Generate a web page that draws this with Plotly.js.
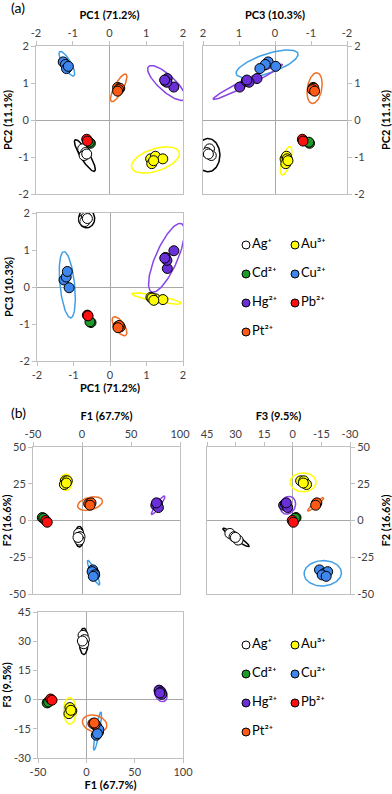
<!DOCTYPE html>
<html><head><meta charset="utf-8">
<script src="https://cdn.plot.ly/plotly-3.0.1.min.js"></script>
<style>html,body{margin:0;padding:0;background:#fff}#chart{width:392px;height:794px}</style>
</head><body><div id="chart"></div>
<script>
const W = 392, H = 794;
const FONT = 'Lato, "Liberation Sans", sans-serif';

const ions = ['Ag','Au','Cd','Cu','Hg','Pb','Pt'];
const ionLabels = ['Ag⁺','Au³⁺','Cd²⁺','Cu²⁺','Hg²⁺','Pb²⁺','Pt²⁺'];
const markerColors = ['#ffffff','#ffff00','#1f9a2a','#3d86ee','#6a2fd6','#ff1010','#ff5a14'];
const ellipseColors = ['#000000','#ffff00','#1f9a2a','#3fa0e8','#8a45e6','#ff1010','#f07028'];

// ---------- (a) PCA scores ----------
const Ag_PC1 = [-0.73,-0.65,-0.69,-0.62];
const Ag_PC2 = [-0.78,-0.88,-0.96,-0.92];
const Ag_PC3 = [1.82,1.89,1.77,1.85];
const Au_PC1 = [1.12,1.25,1.45,1.15,1.2];
const Au_PC2 = [-1.05,-0.98,-1.05,-1.18,-1.1];
const Au_PC3 = [-0.28,-0.32,-0.34,-0.3,-0.36];
const Cd_PC1 = [-0.52,-0.55];
const Cd_PC2 = [-0.63,-0.6];
const Cd_PC3 = [-0.96,-0.94];
const Cu_PC1 = [-1.26,-1.2,-1.17,-1.12];
const Cu_PC2 = [1.57,1.5,1.39,1.45];
const Cu_PC3 = [0.19,0.27,0.42,-0.02];
const Hg_PC1 = [1.75,1.57,1.52,1.56,1.5];
const Hg_PC2 = [0.89,1.12,1.05,1.02,1.08];
const Hg_PC3 = [0.98,0.5,0.8,0.72,0.78];
const Pb_PC1 = [-0.62,-0.6];
const Pb_PC2 = [-0.52,-0.57];
const Pb_PC3 = [-0.76,-0.78];
const Pt_PC1 = [0.22,0.28,0.25,0.22];
const Pt_PC2 = [0.88,0.86,0.82,0.78];
const Pt_PC3 = [-1.06,-1.08,-1.04,-1.1];

// ---------- (b) factor scores ----------
const Ag_F1 = [-3.4,-2,-2.7,-4.1];
const Ag_F2 = [-8.8,-11,-13.3,-11.5];
const Ag_F3 = [33,30.8,28.7,30.1];
const Au_F1 = [-17,-15,-18,-16];
const Au_F2 = [27,27,24.5,25.5];
const Au_F3 = [-4.1,-5.8,-7.2,-5.5];
const Cd_F1 = [-40.5,-39];
const Cd_F2 = [2,1.5];
const Cd_F3 = [-1.7,-1.2];
const Cu_F1 = [11,12.7,10.3,13,11.5];
const Cu_F2 = [-33.6,-35.9,-34.8,-37,-38];
const Cu_F3 = [-14,-16.6,-18.3,-15.4,-17.5];
const Hg_F1 = [75.3,77,78,76];
const Hg_F2 = [10.4,11.5,8.8,12];
const Hg_F3 = [4.8,3.9,2.7,3.4];
const Pb_F1 = [-37,-35.5];
const Pb_F2 = [0,-1.2];
const Pb_F3 = [0.3,-0.3];
const Pt_F1 = [6.8,9.2,8.2];
const Pt_F2 = [11.5,12,10.4];
const Pt_F3 = [-12.3,-12.6,-12];

// confidence ellipses: [ion, centre x, centre y, semi-axis a, semi-axis b, angle deg]
const ellPC1PC2 = [['Ag',-0.67,-0.96,0.5,0.12,-58],['Au',1.25,-1.08,0.68,0.3,18],['Cu',-1.16,1.52,0.38,0.11,-60],['Hg',1.55,1.0,0.66,0.22,-42],['Pt',0.25,0.87,0.42,0.12,62]];
const ellPC3PC2 = [['Ag',1.86,-0.95,0.45,0.33,90],['Au',-0.31,-1.1,0.4,0.12,106],['Cu',0.22,1.52,0.9,0.26,-18],['Hg',0.76,1.03,1.07,0.09,-26],['Pt',-1.1,0.86,0.42,0.2,100]];
const ellPC1PC3 = [['Ag',-0.64,1.85,0.25,0.22,90],['Au',1.27,-0.31,0.69,0.08,-11],['Cu',-1.17,0.06,0.9,0.2,96],['Hg',1.55,0.79,1.01,0.3,66],['Pt',0.26,-1.06,0.3,0.13,-55]];
const ellF1F2 = [['Ag',-2.7,-11,7,4.5,90],['Au',-16.4,26,6,5.6,0],['Cu',11.8,-35.5,10.2,2.2,-54],['Hg',77.7,10.4,9.2,1.8,42],['Pt',8.2,11.5,12.8,4.3,8]];
const ellF3F2 = [['Ag',29.8,-11.5,9.2,1.5,42],['Au',-5.4,26,6.8,6.4,0],['Cu',-15.7,-35.9,9.8,8.6,-8],['Hg',2.6,10.4,6.1,4,100],['Pt',-12,11,6.1,1.2,132]];
const ellF1F3 = [['Ag',-2.7,29.9,6.75,4.6,90],['Au',-17.1,-5.8,6.8,6.5,95],['Cu',11.6,-16.1,10.5,2,69],['Hg',77,3.1,6.8,3.9,-15],['Pt',8.6,-12.3,12.7,4.3,-5]];

// ticks
const pcTicks = [-2,-1,0,1,2];
const pcTickText = ['-2','-1','0','1','2'];
const f1Ticks = [-50,0,50,100];
const f1TickText = ['-50','0','50','100'];
const f2Ticks = [-50,-25,0,25,50];
const f2TickText = ['-50','-25','0','25','50'];
const f3xTicks = [45,30,15,0,-15,-30];
const f3xTickText = ['45','30','15','0','-15','-30'];
const f3yTicks = [-30,-15,0,15,30,45];
const f3yTickText = ['-30','-15','0','15','30','45'];

// ---------- build ----------
const PC1 = [Ag_PC1,Au_PC1,Cd_PC1,Cu_PC1,Hg_PC1,Pb_PC1,Pt_PC1];
const PC2 = [Ag_PC2,Au_PC2,Cd_PC2,Cu_PC2,Hg_PC2,Pb_PC2,Pt_PC2];
const PC3 = [Ag_PC3,Au_PC3,Cd_PC3,Cu_PC3,Hg_PC3,Pb_PC3,Pt_PC3];
const F1 = [Ag_F1,Au_F1,Cd_F1,Cu_F1,Hg_F1,Pb_F1,Pt_F1];
const F2 = [Ag_F2,Au_F2,Cd_F2,Cu_F2,Hg_F2,Pb_F2,Pt_F2];
const F3 = [Ag_F3,Au_F3,Cd_F3,Cu_F3,Hg_F3,Pb_F3,Pt_F3];

function ellipse(cx, cy, a, b, th){
  const r = th*Math.PI/180, xs=[], ys=[];
  for(let i=0;i<=96;i++){
    const t = i/96*2*Math.PI;
    xs.push(cx + a*Math.cos(t)*Math.cos(r) - b*Math.sin(t)*Math.sin(r));
    ys.push(cy + a*Math.cos(t)*Math.sin(r) + b*Math.sin(t)*Math.cos(r));
  }
  return [xs, ys];
}

const traces = [];
function addPanel(xa, ya, X, Y, ells){
  ells.forEach(e => {
    const k = ions.indexOf(e[0]);
    const [xs, ys] = ellipse(e[1],e[2],e[3],e[4],e[5]);
    traces.push({type:'scatter',mode:'lines',x:xs,y:ys,xaxis:xa,yaxis:ya,
      line:{color:ellipseColors[k],width:1.5},hoverinfo:'skip',showlegend:false});
  });
  ions.forEach((ion,k) => {
    traces.push({type:'scatter',mode:'markers',name:ion,x:X[k],y:Y[k],xaxis:xa,yaxis:ya,
      marker:{size:10,color:markerColors[k],line:{color:'#000',width:1}},showlegend:false});
  });
}
addPanel('x','y',PC1,PC2,ellPC1PC2);
addPanel('x2','y2',PC3,PC2,ellPC3PC2);
addPanel('x3','y3',PC1,PC3,ellPC1PC3);
addPanel('x4','y4',F1,F2,ellF1F2);
addPanel('x5','y5',F3,F2,ellF3F2);
addPanel('x6','y6',F1,F3,ellF1F3);

// in-figure legends (two columns)
const LEG_X0 = 246, LEG_DX = 49, LEG_DY = 29;
const LEG_TOPS = [245, 645];
LEG_TOPS.forEach(top => {
  traces.push({type:'scatter',mode:'markers+text',xaxis:'x7',yaxis:'y7',
    x: ions.map((_,i)=>LEG_X0 + (i%2)*LEG_DX),
    y: ions.map((_,i)=>top + Math.floor(i/2)*LEG_DY),
    text: ionLabels, textposition:'middle right',
    textfont:{family:FONT,size:13,color:'#000'},
    marker:{size:8,color:markerColors,line:{color:'#000',width:1}},
    showlegend:false,hoverinfo:'skip',cliponaxis:false});
});

const dx = (l,r)=>[l/W, r/W];
const dy = (t,b)=>[1-b/H, 1-t/H];
const TFONT = {family:FONT,size:11,color:'#000',weight:'bold'};
function ax(o, title, standoff){
  return Object.assign({showline:true,mirror:true,linecolor:'#c0c0c0',linewidth:1,
    showgrid:false,zeroline:true,zerolinecolor:'#a8a8a8',zerolinewidth:1,
    ticks:'outside',ticklen:4,tickcolor:'#c0c0c0',
    tickfont:{family:FONT,size:11,color:'#404040'},automargin:false,fixedrange:true,
    title:{text:title,font:TFONT,standoff:standoff}}, o);
}

const layout = {
  width:W, height:H, margin:{l:0,r:0,t:0,b:0},
  paper_bgcolor:'#fff', plot_bgcolor:'rgba(0,0,0,0)', showlegend:false,
  xaxis: ax({domain:dx(36,183),range:[-2,2],side:'top',anchor:'y',tickvals:pcTicks,ticktext:pcTickText},'PC1 (71.2%)',3),
  yaxis: ax({domain:dy(46,194),range:[-2,2],anchor:'x',tickvals:pcTicks,ticktext:pcTickText},'PC2 (11.1%)',3),
  xaxis2: ax({domain:dx(203,347),range:[2,-2],side:'top',anchor:'y2',tickvals:pcTicks,ticktext:pcTickText},'PC3 (10.3%)',3),
  yaxis2: ax({domain:dy(46,194),range:[-2,2],side:'right',anchor:'x2',tickvals:pcTicks,ticktext:pcTickText},'PC2 (11.1%)',18),
  xaxis3: ax({domain:dx(37,183),range:[-2,2],anchor:'y3',tickvals:pcTicks,ticktext:pcTickText},'PC1 (71.2%)',4),
  yaxis3: ax({domain:dy(213,361),range:[-2,2],anchor:'x3',tickvals:pcTicks,ticktext:pcTickText},'PC3 (10.3%)',3),
  xaxis4: ax({domain:dx(33,180),range:[-50,100],side:'top',anchor:'y4',tickvals:f1Ticks,ticktext:f1TickText},'F1 (67.7%)',3),
  yaxis4: ax({domain:dy(447,594),range:[-50,50],anchor:'x4',tickvals:f2Ticks,ticktext:f2TickText},'F2 (16.6%)',3),
  xaxis5: ax({domain:dx(207,350),range:[45,-30],side:'top',anchor:'y5',tickvals:f3xTicks,ticktext:f3xTickText},'F3 (9.5%)',3),
  yaxis5: ax({domain:dy(447,594),range:[-50,50],side:'right',anchor:'x5',tickvals:f2Ticks,ticktext:f2TickText},'F2 (16.6%)',10),
  xaxis6: ax({domain:dx(38,183),range:[-50,100],anchor:'y6',tickvals:f1Ticks,ticktext:f1TickText},'F1 (67.7%)',2),
  yaxis6: ax({domain:dy(612,758),range:[-30,45],anchor:'x6',tickvals:f3yTicks,ticktext:f3yTickText},'F3 (9.5%)',3),
  xaxis7: {domain:[0,1],range:[0,W],visible:false,anchor:'y7',fixedrange:true},
  yaxis7: {domain:[0,1],range:[H,0],visible:false,anchor:'x7',fixedrange:true},
  annotations: []
};

function note(text, x, y, opts){
  layout.annotations.push(Object.assign({text, x:x/W, y:1-y/H, xref:'paper', yref:'paper',
    xanchor:'center', yanchor:'middle', showarrow:false,
    font:{family:FONT,size:14,color:'#000'}}, opts||{}));
}
note('(a)', 18, 8);
note('(b)', 18, 412);

Plotly.newPlot('chart', traces, layout, {staticPlot:true, displayModeBar:false});
</script>
</body></html>
